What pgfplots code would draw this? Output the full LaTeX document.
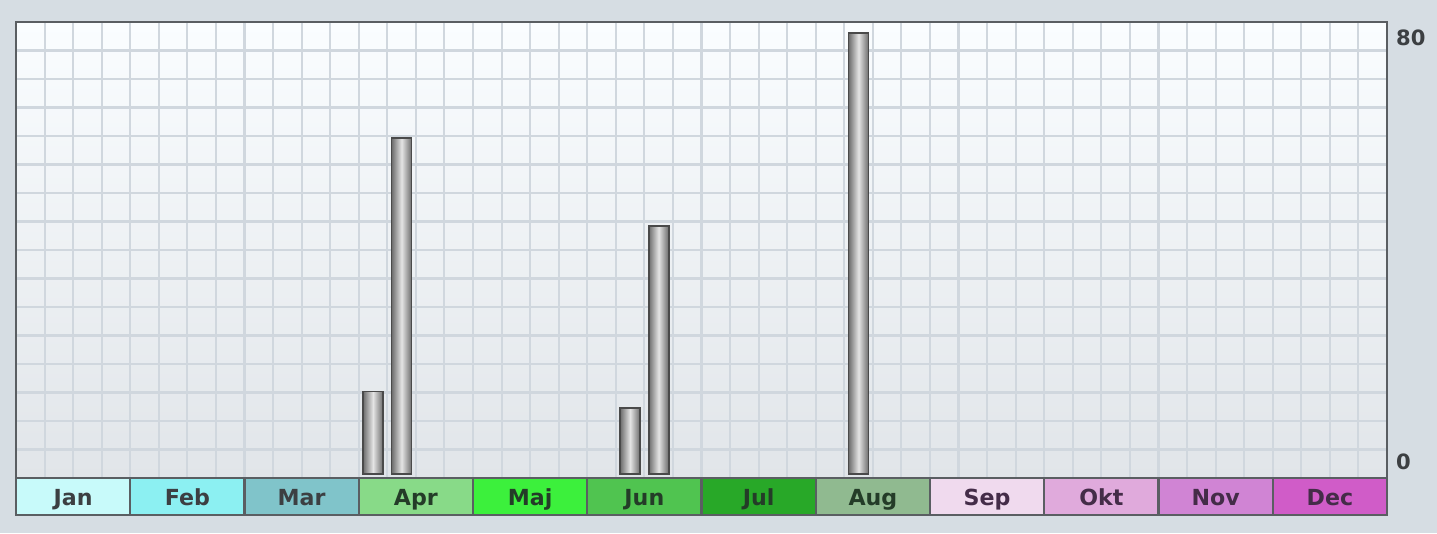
\documentclass[border=0pt]{standalone}
\usepackage{pgfplots}
\pgfplotsset{compat=1.18}
\usepackage{fontspec}
\setmainfont{DejaVu Sans}

\definecolor{pagebg}{HTML}{D6DDE3}
\definecolor{gridcol}{HTML}{D0D7DE}
\definecolor{plottop}{HTML}{FAFDFF}
\definecolor{plotbot}{HTML}{E1E5E9}
\definecolor{framecol}{HTML}{5A5E62}
\definecolor{bardraw}{HTML}{4A4A4A}
\definecolor{baredge}{HTML}{6C6C6C}
\definecolor{barmid}{HTML}{E4E4E4}
\definecolor{labcol}{HTML}{3C3F42}
% month band colours
\definecolor{c1}{HTML}{C8FAFA}
\definecolor{c2}{HTML}{8CF0F2}
\definecolor{c3}{HTML}{80C4CA}
\definecolor{c4}{HTML}{88DA88}
\definecolor{c5}{HTML}{3CF03C}
\definecolor{c6}{HTML}{50C450}
\definecolor{c7}{HTML}{28A828}
\definecolor{c8}{HTML}{90BA90}
\definecolor{c9}{HTML}{F0DAEE}
\definecolor{c10}{HTML}{E0AADC}
\definecolor{c11}{HTML}{D084D4}
\definecolor{c12}{HTML}{D05CC8}
\definecolor{tgreen}{HTML}{243C28}
\definecolor{tpurple}{HTML}{442C48}

\pgfplotsset{
    cyl/.style={ybar, bar width=0.7, bar shift=0pt, draw=bardraw, line width=0.5pt,
        left color=baredge, right color=baredge, middle color=barmid},
}

\begin{document}
\begin{tikzpicture}
\fill[pagebg] (0,0) rectangle (14.37cm,5.33cm);

% background grid (16 x 48 squares)
\begin{axis}[
    at={(0.16cm,0.55cm)}, anchor=south west,
    scale only axis, width=13.71cm, height=4.56cm,
    xmin=0, xmax=48, ymin=0, ymax=16,
    xtick={0,...,48}, ytick={0,...,16},
    xticklabels={}, yticklabels={},
    major tick length=0pt,
    grid=major,
    grid style={color=gridcol, line width=0.6pt},
    axis line style={draw=none},
    axis background/.style={shade, top color=plottop, bottom color=plotbot},
]
\addplot[draw=none] coordinates {(0,0)};
\end{axis}

% data
\begin{axis}[
    at={(0.16cm,0.55cm)}, anchor=south west,
    scale only axis, width=13.71cm, height=4.56cm,
    xmin=0, xmax=48, ymin=-0.7, ymax=82,
    xtick=\empty,
    ytick={0},
    extra y ticks={80},
    extra y tick style={yticklabel style={anchor=west, yshift=-0.5mm}},
    yticklabel pos=right,
    major tick length=0pt,
    yticklabel style={anchor=south west, font=\fontsize{6}{7}\selectfont\bfseries, text=labcol, inner sep=1pt, xshift=0.5mm},
    /pgf/number format/assume math mode=true,
    axis line style={draw=framecol, line width=0.8pt},
    clip=false,
]
\addplot[cyl] coordinates {(12.5,15)};
\addplot[cyl] coordinates {(13.5,61)};
\addplot[cyl] coordinates {(21.5,12)};
\addplot[cyl] coordinates {(22.5,45)};
\addplot[cyl] coordinates {(29.5,80)};
\end{axis}

% month band
\foreach \i/\lab/\tc in {1/Jan/labcol,2/Feb/labcol,3/Mar/labcol,4/Apr/tgreen,5/Maj/tgreen,6/Jun/tgreen,7/Jul/tgreen,8/Aug/tgreen,9/Sep/tpurple,10/Okt/tpurple,11/Nov/tpurple,12/Dec/tpurple}{
  \draw[fill=c\i, draw=framecol, line width=0.7pt]
    ({0.16cm+(\i-1)*1.1425cm},0.18cm) rectangle ({0.16cm+\i*1.1425cm},0.55cm);
  \node[text=\tc, font=\fontsize{6.3}{7}\selectfont\bfseries, anchor=base, inner sep=0pt]
    at ({0.16cm+(\i-0.5)*1.1425cm},0.28cm) {\lab};
}
\pgfresetboundingbox
\path[use as bounding box] (0,0) rectangle (14.37cm,5.33cm);
\end{tikzpicture}
\end{document}
